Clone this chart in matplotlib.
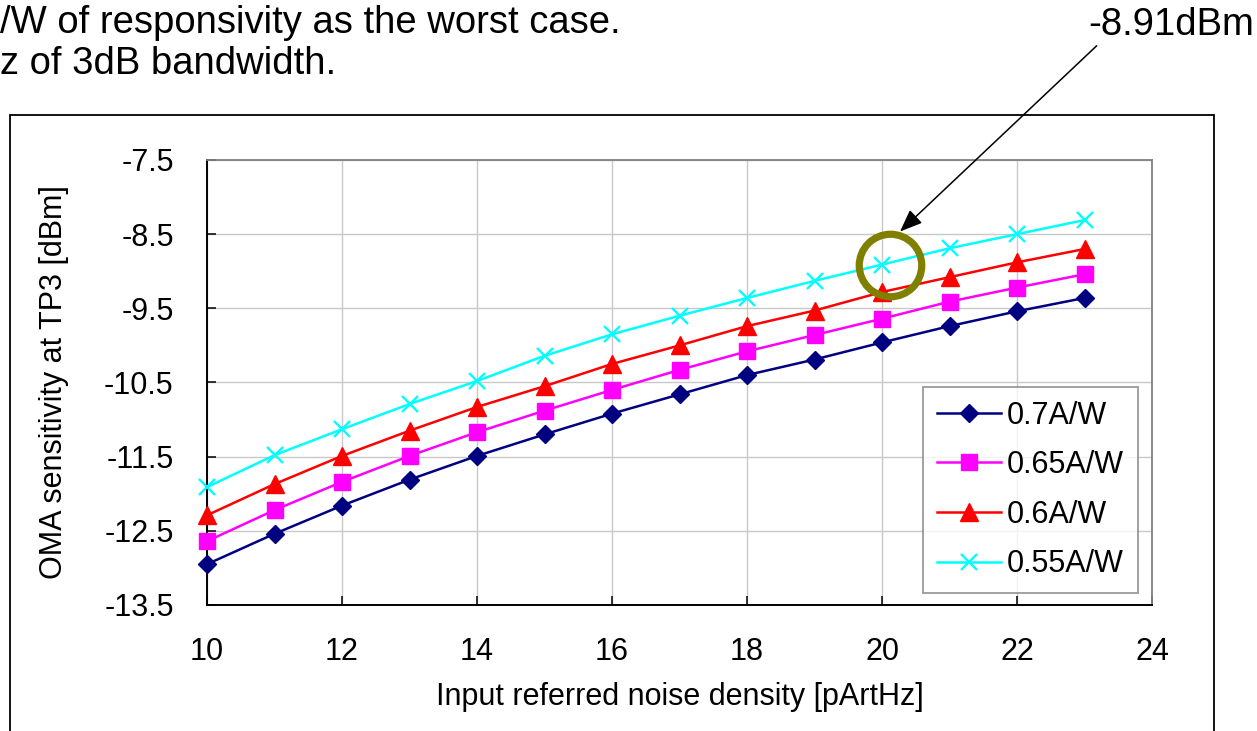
import matplotlib
matplotlib.use("Agg")
import matplotlib.pyplot as plt
from matplotlib.patches import Rectangle
from matplotlib.transforms import ScaledTranslation

plt.rcParams['font.family'] = ['Liberation Sans', 'DejaVu Sans']

# ---- data ----
noise_density = [10, 11, 12, 13, 14, 15, 16, 17, 18, 19, 20, 21, 22, 23]
resp_070 = [-12.95, -12.54, -12.16, -11.81, -11.49, -11.20, -10.92, -10.66, -10.40, -10.19, -9.96, -9.74, -9.54, -9.36]
resp_065 = [-12.64, -12.22, -11.84, -11.49, -11.17, -10.88, -10.60, -10.33, -10.08, -9.86, -9.64, -9.41, -9.22, -9.04]
resp_060 = [-12.29, -11.87, -11.49, -11.15, -10.83, -10.55, -10.25, -10.00, -9.74, -9.53, -9.28, -9.08, -8.88, -8.70]
resp_055 = [-11.91, -11.48, -11.13, -10.79, -10.48, -10.14, -9.85, -9.60, -9.36, -9.13, -8.91, -8.69, -8.50, -8.31]
series_labels = ['0.7A/W', '0.65A/W', '0.6A/W', '0.55A/W']
x_ticks = [10, 12, 14, 16, 18, 20, 22, 24]
y_ticks = [-13.5, -12.5, -11.5, -10.5, -9.5, -8.5, -7.5]
highlight_index = 10
note_line1 = '/W of responsivity as the worst case.'
note_line2 = 'z of 3dB bandwidth.'

W, H = 1257, 731
fig = plt.figure(figsize=(W / 100, H / 100), dpi=100)
fig.patch.set_facecolor('white')

# outer chart frame
fig.add_artist(Rectangle((10 / W, -0.05), (1214 - 10) / W, (H - 115) / H + 0.05,
                         transform=fig.transFigure, fill=False,
                         edgecolor='black', linewidth=1.3))

ax = fig.add_axes([207 / W, (H - 605) / H, (1152 - 207) / W, (605 - 160) / H])

styles = [
    dict(color='#000080', marker='D', ms=9, mfc='#000080', mec='#000080'),
    dict(color='#FF00FF', marker='s', ms=11.5, mfc='#FF00FF', mec='#FF00FF'),
    dict(color='#FF0000', marker='^', ms=12.5, mfc='#FF0000', mec='#FF0000'),
    dict(color='#00FFFF', marker='x', ms=12, mew=1.7),
]
all_series = [resp_070, resp_065, resp_060, resp_055]
for vals, lab, st in zip(all_series, series_labels, styles):
    ax.plot(noise_density, vals, lw=1.8, label=lab, zorder=3, clip_on=False, **st)

ax.set_xlim(10, 24)
ax.set_ylim(-13.5, -7.5)
ax.set_xticks(x_ticks)
ax.set_yticks(y_ticks)
ax.set_xticklabels([str(v) for v in x_ticks])
ax.set_yticklabels([f'{v:.1f}' for v in y_ticks])
ax.grid(True, color='#C8C8C8', lw=1.0, zorder=0)
ax.set_axisbelow(True)
ax.tick_params(axis='both', direction='in', length=6.5, width=1.1, labelsize=22, color='black')
ax.tick_params(axis='x', pad=23)
ax.tick_params(axis='y', pad=24)
for s in ['left', 'bottom']:
    ax.spines[s].set_color('black')
    ax.spines[s].set_linewidth(1.4)
for s in ['top', 'right']:
    ax.spines[s].set_color('#808080')
    ax.spines[s].set_linewidth(1.3)

ax.set_xlabel('Input referred noise density [pArtHz]', fontsize=22)
ax.xaxis.set_label_coords(0.5, (605 - 697) / 445)
ax.xaxis.label.set_va('center')
ax.set_ylabel('OMA sensitivity at TP3 [dBm]', fontsize=22)
ax.yaxis.set_label_coords((54 - 207) / 945, 0.5)
ax.yaxis.label.set_va('center')

leg = ax.legend(loc='lower right', bbox_to_anchor=((1138 - 207) / 945, (605 - 593) / 445),
                borderaxespad=0, fontsize=22, frameon=True, fancybox=False,
                handlelength=2.1, handletextpad=0.2, labelspacing=0.64,
                borderpad=0.45, edgecolor='#808080')
leg.get_frame().set_linewidth(1.3)

# highlight circle around the annotated point
hx, hy = noise_density[highlight_index], resp_055[highlight_index]
circ_tr = ax.transData + ScaledTranslation(8 / 100, 0, fig.dpi_scale_trans)
ax.plot([hx], [hy], marker='o', ms=45, mfc='none', mec='#808000', mew=5.2,
        transform=circ_tr, zorder=5, clip_on=False)

arrow_tr = ax.transData + ScaledTranslation(18 / 100, 33 / 100, fig.dpi_scale_trans)
ax.annotate(f'{hy:.2f}dBm', xy=(hx, hy), xycoords=arrow_tr,
            xytext=(1088, H - 25), textcoords='figure pixels',
            ha='left', va='center', fontsize=27.5,
            arrowprops=dict(arrowstyle='-|>,head_length=0.5,head_width=0.2',
                            color='black', lw=1.1, relpos=(0.07, 0.0),
                            shrinkA=0, shrinkB=0))

fig.text(0.0, 1 - 23 / H, note_line1, ha='left', va='center', fontsize=27.5)
fig.text(0.0, 1 - 64 / H, note_line2, ha='left', va='center', fontsize=27.5)

fig.savefig('out.png', dpi=100)
